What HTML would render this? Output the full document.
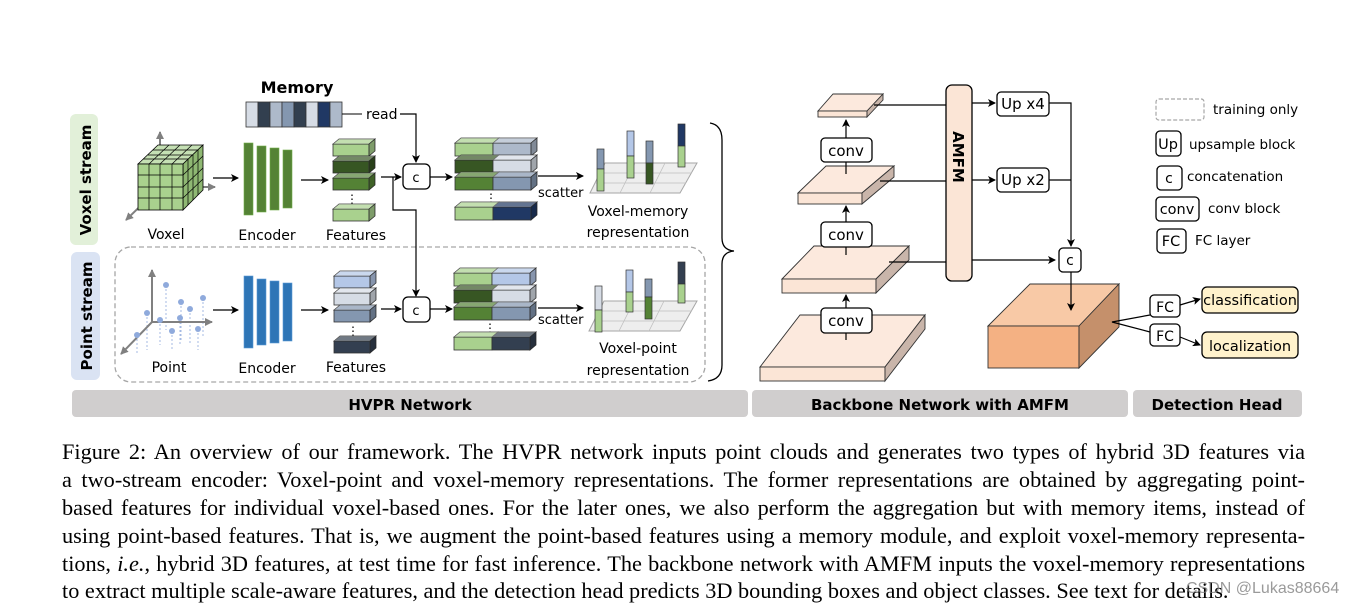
<!DOCTYPE html>
<html><head><meta charset="utf-8"><style>
html,body{margin:0;padding:0;background:#fff;width:1350px;height:606px;overflow:hidden}
svg{position:absolute;left:0;top:0}
svg text{font-family:"DejaVu Sans","Liberation Sans",sans-serif}
.cap{position:absolute;left:62px;width:1243px;font-family:"Liberation Serif",serif;font-size:22.3px;line-height:28px;white-space:nowrap;color:#000}
.j{text-align:justify;text-align-last:justify;white-space:normal}
</style></head><body>
<svg width="1350" height="606" viewBox="0 0 1350 606">
<defs>
<marker id="a" markerWidth="8" markerHeight="8" refX="7" refY="4" orient="auto" markerUnits="userSpaceOnUse"><path d="M0,0 L8,4 L0,8 L2,4 z" fill="#000"/></marker>
<marker id="g" markerWidth="8" markerHeight="8" refX="7" refY="4" orient="auto" markerUnits="userSpaceOnUse"><path d="M0,0 L8,4 L0,8 z" fill="#808080"/></marker>
<g id="fb"><rect x="0" y="0" width="36" height="12" fill="currentColor" stroke="#333" stroke-width="0.8"/><polygon points="0,0 6,-5 42,-5 36,0" fill="currentColor" stroke="#333" stroke-width="0.8"/><polygon points="0,0 6,-5 42,-5 36,0" fill="#fff" opacity=".3"/><polygon points="36,0 42,-5 42,7 36,12" fill="currentColor" stroke="#333" stroke-width="0.8"/><polygon points="36,0 42,-5 42,7 36,12" fill="#000" opacity=".25"/></g>
<g id="cb"><rect x="0" y="0" width="38" height="13" fill="currentColor" stroke="#333" stroke-width="0.8"/><rect x="38" y="0" width="38" height="13" fill="var(--r)" stroke="#333" stroke-width="0.8"/><polygon points="0,0 6,-5 44,-5 38,0" fill="currentColor" stroke="#333" stroke-width="0.8"/><polygon points="38,0 44,-5 82,-5 76,0" fill="var(--r)" stroke="#333" stroke-width="0.8"/><polygon points="0,0 6,-5 82,-5 76,0" fill="#fff" opacity=".3"/><polygon points="76,0 82,-5 82,8 76,13" fill="var(--r)" stroke="#333" stroke-width="0.8"/><polygon points="76,0 82,-5 82,8 76,13" fill="#000" opacity=".25"/></g>
</defs>

<!-- stream labels -->
<rect x="70" y="114" width="28" height="131" rx="6" fill="#e2f0d9"/>
<text transform="translate(91,180) rotate(-90)" font-size="15" font-weight="bold" text-anchor="middle">Voxel stream</text>
<rect x="71" y="252" width="29" height="128" rx="6" fill="#dae3f3"/>
<text transform="translate(92,316) rotate(-90)" font-size="15" font-weight="bold" text-anchor="middle">Point stream</text>
<rect x="115" y="247" width="590" height="135" rx="16" fill="none" stroke="#a6a6a6" stroke-width="1.3" stroke-dasharray="5,3"/>

<!-- memory -->
<text x="297" y="93" font-size="16" font-weight="bold" text-anchor="middle">Memory</text>
<g stroke="#333" stroke-width="0.8">
<rect x="246" y="102" width="12" height="25" fill="#d6dce5"/><rect x="258" y="102" width="12" height="25" fill="#323f4f"/><rect x="270" y="102" width="12" height="25" fill="#adb9ca"/><rect x="282" y="102" width="12" height="25" fill="#8497b0"/><rect x="294" y="102" width="12" height="25" fill="#323f4f"/><rect x="306" y="102" width="12" height="25" fill="#d6dce5"/><rect x="318" y="102" width="12" height="25" fill="#203864"/><rect x="330" y="102" width="12" height="25" fill="#adb9ca"/></g>
<text x="366" y="119" font-size="14">read</text>
<polyline points="342,114 362,114" stroke="#000" fill="none"/>
<polyline points="400,114 416,114 416,162" stroke="#000" fill="none" stroke-width="1.2" marker-end="url(#a)"/>

<!-- voxel cube -->
<g stroke="#808080" stroke-width="2" fill="none"><line x1="160" y1="187" x2="160" y2="132" marker-end="url(#g)"/><line x1="160" y1="187" x2="126" y2="220" marker-end="url(#g)"/><line x1="160" y1="187" x2="215" y2="187" marker-end="url(#g)"/></g>
<polygon points="138,164 158,145 203,145 183,164" fill="#c5e0b4" stroke="#000" stroke-width="0.8"/>
<polygon points="183,164 203,145 203,190 183,210" fill="#8fb873" stroke="#000" stroke-width="0.8"/>
<rect x="138" y="164" width="45" height="46" fill="#a9d18e" stroke="#000" stroke-width="0.8"/>
<g stroke="#000" stroke-width="0.7">
<line x1="149" y1="164" x2="149" y2="210"/><line x1="160" y1="164" x2="160" y2="210"/><line x1="172" y1="164" x2="172" y2="210"/>
<line x1="138" y1="175" x2="183" y2="175"/><line x1="138" y1="187" x2="183" y2="187"/><line x1="138" y1="198" x2="183" y2="198"/>
<line x1="143" y1="159" x2="188" y2="159"/><line x1="148" y1="155" x2="193" y2="155"/><line x1="153" y1="150" x2="198" y2="150"/>
<line x1="149" y1="164" x2="169" y2="145"/><line x1="160" y1="164" x2="180" y2="145"/><line x1="172" y1="164" x2="192" y2="145"/>
<line x1="188" y1="159" x2="188" y2="205"/><line x1="193" y1="155" x2="193" y2="200"/><line x1="198" y1="150" x2="198" y2="195"/>
<line x1="183" y1="175" x2="203" y2="156"/><line x1="183" y1="187" x2="203" y2="168"/><line x1="183" y1="198" x2="203" y2="179"/></g>
<text x="166" y="239" font-size="14" text-anchor="middle">Voxel</text>

<!-- arrows -->
<g stroke="#000" stroke-width="1.2" fill="none">
<line x1="213" y1="178" x2="238" y2="178" marker-end="url(#a)"/>
<line x1="301" y1="180" x2="328" y2="180" marker-end="url(#a)"/>
<line x1="381" y1="177" x2="401" y2="177" marker-end="url(#a)"/>
<polyline points="393,177 393,210 416,210 416,296" marker-end="url(#a)"/>
<line x1="430" y1="177" x2="452" y2="177" marker-end="url(#a)"/>
<line x1="538" y1="176" x2="583" y2="176" marker-end="url(#a)"/>
<line x1="213" y1="310" x2="238" y2="310" marker-end="url(#a)"/>
<line x1="301" y1="310" x2="328" y2="310" marker-end="url(#a)"/>
<line x1="381" y1="309" x2="401" y2="309" marker-end="url(#a)"/>
<line x1="430" y1="309" x2="452" y2="309" marker-end="url(#a)"/>
<line x1="538" y1="308" x2="583" y2="308" marker-end="url(#a)"/>
</g>

<!-- encoders -->
<g fill="#548235" stroke="#70ad47" stroke-width="0.6"><rect x="244" y="143" width="9" height="72"/><rect x="257" y="146" width="9" height="66"/><rect x="270" y="148" width="9" height="62"/><rect x="283" y="150" width="9" height="58"/></g>
<g fill="#2e75b6" stroke="#5b9bd5" stroke-width="0.6"><rect x="244" y="276" width="9" height="72"/><rect x="257" y="279" width="9" height="66"/><rect x="270" y="281" width="9" height="62"/><rect x="283" y="283" width="9" height="58"/></g>
<text x="267" y="240" font-size="14" text-anchor="middle">Encoder</text>
<text x="267" y="373" font-size="14" text-anchor="middle">Encoder</text>

<!-- features voxel -->
<use href="#fb" x="333" y="144" style="color:#a9d18e"/>
<use href="#fb" x="333" y="161" style="color:#375623"/>
<use href="#fb" x="333" y="178" style="color:#548235"/>
<text x="352" y="203" font-size="12" text-anchor="middle">⋮</text>
<use href="#fb" x="333" y="209" style="color:#a9d18e"/>
<text x="356" y="240" font-size="14" text-anchor="middle">Features</text>
<!-- features point -->
<use href="#fb" x="334" y="276" style="color:#b4c7e7"/>
<use href="#fb" x="334" y="293" style="color:#d6dce5"/>
<use href="#fb" x="334" y="310" style="color:#8497b0"/>
<text x="353" y="335" font-size="12" text-anchor="middle">⋮</text>
<use href="#fb" x="334" y="341" style="color:#333f50"/>
<text x="356" y="372" font-size="14" text-anchor="middle">Features</text>

<!-- c boxes -->
<rect x="403" y="164" width="27" height="25" rx="5" fill="#fff" stroke="#000" stroke-width="1.3"/><text x="416" y="182" font-size="13" text-anchor="middle">c</text>
<rect x="403" y="297" width="27" height="25" rx="5" fill="#fff" stroke="#000" stroke-width="1.3"/><text x="416" y="315" font-size="13" text-anchor="middle">c</text>

<!-- concat voxel -->
<use href="#cb" x="455" y="143" style="color:#a9d18e;--r:#adb9ca"/>
<use href="#cb" x="455" y="160" style="color:#375623;--r:#d6dce5"/>
<use href="#cb" x="455" y="177" style="color:#548235;--r:#8497b0"/>
<text x="491" y="202" font-size="12" text-anchor="middle">⋮</text>
<use href="#cb" x="455" y="207" style="color:#a9d18e;--r:#203864"/>
<!-- concat point -->
<use href="#cb" x="454" y="273" style="color:#a9d18e;--r:#b4c7e7"/>
<use href="#cb" x="454" y="290" style="color:#375623;--r:#d6dce5"/>
<use href="#cb" x="454" y="307" style="color:#548235;--r:#8497b0"/>
<text x="490" y="332" font-size="12" text-anchor="middle">⋮</text>
<use href="#cb" x="454" y="337" style="color:#a9d18e;--r:#333f50"/>

<text x="538" y="197" font-size="13">scatter</text>
<text x="538" y="324" font-size="13">scatter</text>

<!-- grids -->
<g fill="#eeeeee" stroke="#a6a6a6" stroke-width="1">
<polygon points="590,193 605,163 697,163 680,193"/>
<polygon points="589,331 604,301 697,301 680,331"/></g>
<g stroke="#bfbfbf" stroke-width="0.8">
<line x1="620" y1="193" x2="635" y2="163"/><line x1="650" y1="193" x2="665" y2="163"/><line x1="595" y1="183" x2="686" y2="183"/><line x1="600" y1="173" x2="692" y2="173"/>
<line x1="619" y1="331" x2="634" y2="301"/><line x1="649" y1="331" x2="664" y2="301"/><line x1="594" y1="321" x2="686" y2="321"/><line x1="599" y1="311" x2="692" y2="311"/></g>
<g stroke="#333" stroke-width="0.7">
<rect x="597" y="149" width="7" height="20" fill="#8497b0"/><rect x="597" y="169" width="7" height="22" fill="#a9d18e"/>
<rect x="627" y="131" width="7" height="25" fill="#b4c7e7"/><rect x="627" y="156" width="7" height="22" fill="#a9d18e"/>
<rect x="646" y="141" width="7" height="22" fill="#8497b0"/><rect x="646" y="163" width="7" height="21" fill="#375623"/>
<rect x="678" y="124" width="7" height="22" fill="#203864"/><rect x="678" y="146" width="7" height="21" fill="#a9d18e"/>
<rect x="595" y="286" width="7" height="24" fill="#d6dce5"/><rect x="595" y="310" width="7" height="22" fill="#a9d18e"/>
<rect x="626" y="270" width="7" height="22" fill="#b4c7e7"/><rect x="626" y="292" width="7" height="20" fill="#a9d18e"/>
<rect x="645" y="279" width="7" height="18" fill="#8497b0"/><rect x="645" y="297" width="7" height="22" fill="#548235"/>
<rect x="678" y="262" width="7" height="22" fill="#333f50"/><rect x="678" y="284" width="7" height="19" fill="#a9d18e"/></g>

<text x="638" y="216" font-size="14" text-anchor="middle">Voxel-memory</text>
<text x="638" y="237" font-size="14" text-anchor="middle">representation</text>
<text x="638" y="353" font-size="14" text-anchor="middle">Voxel-point</text>
<text x="638" y="375" font-size="14" text-anchor="middle">representation</text>

<!-- point cloud -->
<g stroke="#8faadc" stroke-width="0.8" stroke-dasharray="2,2">
<line x1="166" y1="285" x2="166" y2="330"/><line x1="181" y1="302" x2="181" y2="340"/><line x1="190" y1="309" x2="190" y2="345"/><line x1="203" y1="298" x2="203" y2="338"/><line x1="180" y1="318" x2="180" y2="345"/><line x1="147" y1="313" x2="147" y2="350"/><line x1="160" y1="320" x2="160" y2="345"/><line x1="198" y1="329" x2="198" y2="350"/><line x1="172" y1="331" x2="172" y2="350"/><line x1="137" y1="335" x2="137" y2="355"/></g>
<g stroke="#808080" stroke-width="2" fill="none"><line x1="152" y1="322" x2="152" y2="270" marker-end="url(#g)"/><line x1="152" y1="322" x2="212" y2="322" marker-end="url(#g)"/><line x1="152" y1="322" x2="121" y2="354" marker-end="url(#g)"/></g>
<g fill="#8faadc"><circle cx="166" cy="285" r="3"/><circle cx="181" cy="302" r="3"/><circle cx="190" cy="309" r="3"/><circle cx="203" cy="298" r="3"/><circle cx="180" cy="318" r="3"/><circle cx="147" cy="313" r="3"/><circle cx="160" cy="320" r="3"/><circle cx="198" cy="329" r="3"/><circle cx="172" cy="331" r="3"/><circle cx="137" cy="335" r="3"/></g>
<text x="169" y="372" font-size="14" text-anchor="middle">Point</text>

<!-- brace -->
<path d="M710,123 Q722,125 722,140 L722,238 Q722,250 734,251 Q722,252 722,264 L722,365 Q722,379 708,381" fill="none" stroke="#000" stroke-width="1.3"/>

<!-- bottom bars -->
<rect x="72" y="390" width="676" height="27" rx="4" fill="#d0cece"/>
<rect x="752" y="390" width="376" height="27" rx="4" fill="#d0cece"/>
<rect x="1133" y="390" width="169" height="27" rx="4" fill="#d0cece"/>
<text x="410" y="410" font-size="15" font-weight="bold" text-anchor="middle">HVPR Network</text>
<text x="940" y="410" font-size="15" font-weight="bold" text-anchor="middle">Backbone Network with AMFM</text>
<text x="1217" y="410" font-size="15" font-weight="bold" text-anchor="middle">Detection Head</text>

<!-- backbone slabs -->
<g stroke="#333" stroke-width="0.9">
<polygon points="760,367 800,315 925,315 885,367" fill="#fce9dd"/>
<rect x="760" y="367" width="125" height="14" fill="#fbe5d6"/>
<polygon points="885,367 925,315 925,329 885,381" fill="#c9b5aa"/>
<polygon points="782,279 814,246 909,246 876,279" fill="#fce9dd"/>
<rect x="782" y="279" width="94" height="14" fill="#fbe5d6"/>
<polygon points="876,279 909,246 909,260 876,293" fill="#c9b5aa"/>
<polygon points="798,193 826,166 894,166 862,193" fill="#fce9dd"/>
<rect x="798" y="193" width="64" height="11" fill="#fbe5d6"/>
<polygon points="862,193 894,166 894,177 862,204" fill="#c9b5aa"/>
<polygon points="818,111 833,94 883,94 867,111" fill="#fce9dd"/>
<rect x="818" y="111" width="49" height="6" fill="#fbe5d6"/>
<polygon points="867,111 883,94 883,100 867,117" fill="#c9b5aa"/>
</g>
<g stroke="#000" stroke-width="1.2" fill="none">
<line x1="846" y1="340" x2="846" y2="295" marker-end="url(#a)"/>
<line x1="846" y1="255" x2="846" y2="206" marker-end="url(#a)"/>
<line x1="846" y1="174" x2="846" y2="120" marker-end="url(#a)"/>
<line x1="874" y1="105" x2="946" y2="105"/>
<line x1="880" y1="181" x2="946" y2="181"/>
<line x1="889" y1="262" x2="946" y2="262"/>
<line x1="972" y1="103" x2="995" y2="103" marker-end="url(#a)"/>
<line x1="972" y1="180" x2="995" y2="180" marker-end="url(#a)"/>
<line x1="972" y1="260" x2="1055" y2="260" marker-end="url(#a)"/>
<polyline points="1049,103 1071,103 1071,246" marker-end="url(#a)"/>
<line x1="1049" y1="180" x2="1071" y2="180"/>
</g>
<g fill="#fff" stroke="#000" stroke-width="1.3">
<rect x="821" y="138" width="51" height="24" rx="4"/><rect x="821" y="222" width="51" height="25" rx="4"/><rect x="821" y="308" width="51" height="25" rx="4"/></g>
<text x="846" y="156" font-size="15" text-anchor="middle">conv</text>
<text x="846" y="240" font-size="15" text-anchor="middle">conv</text>
<text x="846" y="326" font-size="15" text-anchor="middle">conv</text>
<rect x="946" y="85" width="26" height="196" rx="6" fill="#fbe5d6" stroke="#000" stroke-width="1.3"/>
<text transform="translate(953,157) rotate(90)" font-size="15" font-weight="bold" text-anchor="middle">AMFM</text>
<g fill="#fff" stroke="#000" stroke-width="1.3">
<rect x="997" y="92" width="52" height="24" rx="4"/><rect x="997" y="168" width="52" height="24" rx="4"/><rect x="1059" y="248" width="22" height="24" rx="4"/></g>
<text x="1023" y="109" font-size="15" text-anchor="middle">Up x4</text>
<text x="1023" y="185" font-size="15" text-anchor="middle">Up x2</text>
<text x="1070" y="265" font-size="14" text-anchor="middle">c</text>

<!-- orange box -->
<g stroke="#333" stroke-width="0.9">
<polygon points="988,326 1030,284 1119,284 1079,326" fill="#f8c9a6"/>
<rect x="988" y="326" width="91" height="42" fill="#f4b183"/>
<polygon points="1079,326 1119,284 1119,327 1079,368" fill="#c5906b"/></g>
<line x1="1071" y1="272" x2="1071" y2="310" stroke="#000" stroke-width="1.2" marker-end="url(#a)"/>
<g stroke="#000" stroke-width="1.2" fill="none">
<polyline points="1150,315 1112,322 1150,332"/>
<line x1="1180" y1="305" x2="1200" y2="299" marker-end="url(#a)"/>
<line x1="1180" y1="337" x2="1200" y2="345" marker-end="url(#a)"/></g>
<g fill="#fff" stroke="#000" stroke-width="1.3"><rect x="1150" y="295" width="30" height="22" rx="4"/><rect x="1150" y="324" width="30" height="22" rx="4"/></g>
<text x="1165" y="312" font-size="14" text-anchor="middle">FC</text>
<text x="1165" y="341" font-size="14" text-anchor="middle">FC</text>
<g fill="#fff2cc" stroke="#000" stroke-width="1.3"><rect x="1202" y="287" width="96" height="26" rx="5"/><rect x="1202" y="332" width="96" height="26" rx="5"/></g>
<text x="1250" y="305" font-size="14.5" text-anchor="middle">classification</text>
<text x="1250" y="351" font-size="14.5" text-anchor="middle">localization</text>

<!-- legend -->
<rect x="1156" y="99" width="48" height="21" rx="3" fill="none" stroke="#a6a6a6" stroke-width="1.2" stroke-dasharray="4,2"/>
<text x="1213" y="114" font-size="13.5">training only</text>
<g fill="#fff" stroke="#000" stroke-width="1.3">
<rect x="1156" y="131" width="25" height="25" rx="4"/><rect x="1157" y="166" width="25" height="24" rx="4"/><rect x="1156" y="197" width="43" height="24" rx="4"/><rect x="1157" y="229" width="29" height="24" rx="4"/></g>
<text x="1168" y="149" font-size="14.5" text-anchor="middle">Up</text><text x="1189" y="149" font-size="13.5">upsample block</text>
<text x="1169" y="183" font-size="14" text-anchor="middle">c</text><text x="1187" y="181" font-size="13.5">concatenation</text>
<text x="1177" y="214" font-size="14.5" text-anchor="middle">conv</text><text x="1208" y="213" font-size="13.5">conv block</text>
<text x="1171" y="246" font-size="14.5" text-anchor="middle">FC</text><text x="1195" y="245" font-size="13.5">FC layer</text>
</svg>

<div class="cap j" style="top:438px">Figure 2: An overview of our framework. The HVPR network inputs point clouds and generates two types of hybrid 3D features via</div>
<div class="cap j" style="top:466px">a two-stream encoder: Voxel-point and voxel-memory representations. The former representations are obtained by aggregating point-</div>
<div class="cap j" style="top:494px">based features for individual voxel-based ones. For the later ones, we also perform the aggregation but with memory items, instead of</div>
<div class="cap j" style="top:522px">using point-based features. That is, we augment the point-based features using a memory module, and exploit voxel-memory representa-</div>
<div class="cap j" style="top:550px">tions, <i>i.e.</i>, hybrid 3D features, at test time for fast inference. The backbone network with AMFM inputs the voxel-memory representations</div>
<div class="cap" style="top:577px">to extract multiple scale-aware features, and the detection head predicts 3D bounding boxes and object classes. See text for details.</div>
<div style="position:absolute;left:1186px;top:580px;font-family:'Liberation Sans',sans-serif;font-size:16px;color:rgba(120,120,120,.75)">CSDN @Lukas88664</div>
</body></html>
